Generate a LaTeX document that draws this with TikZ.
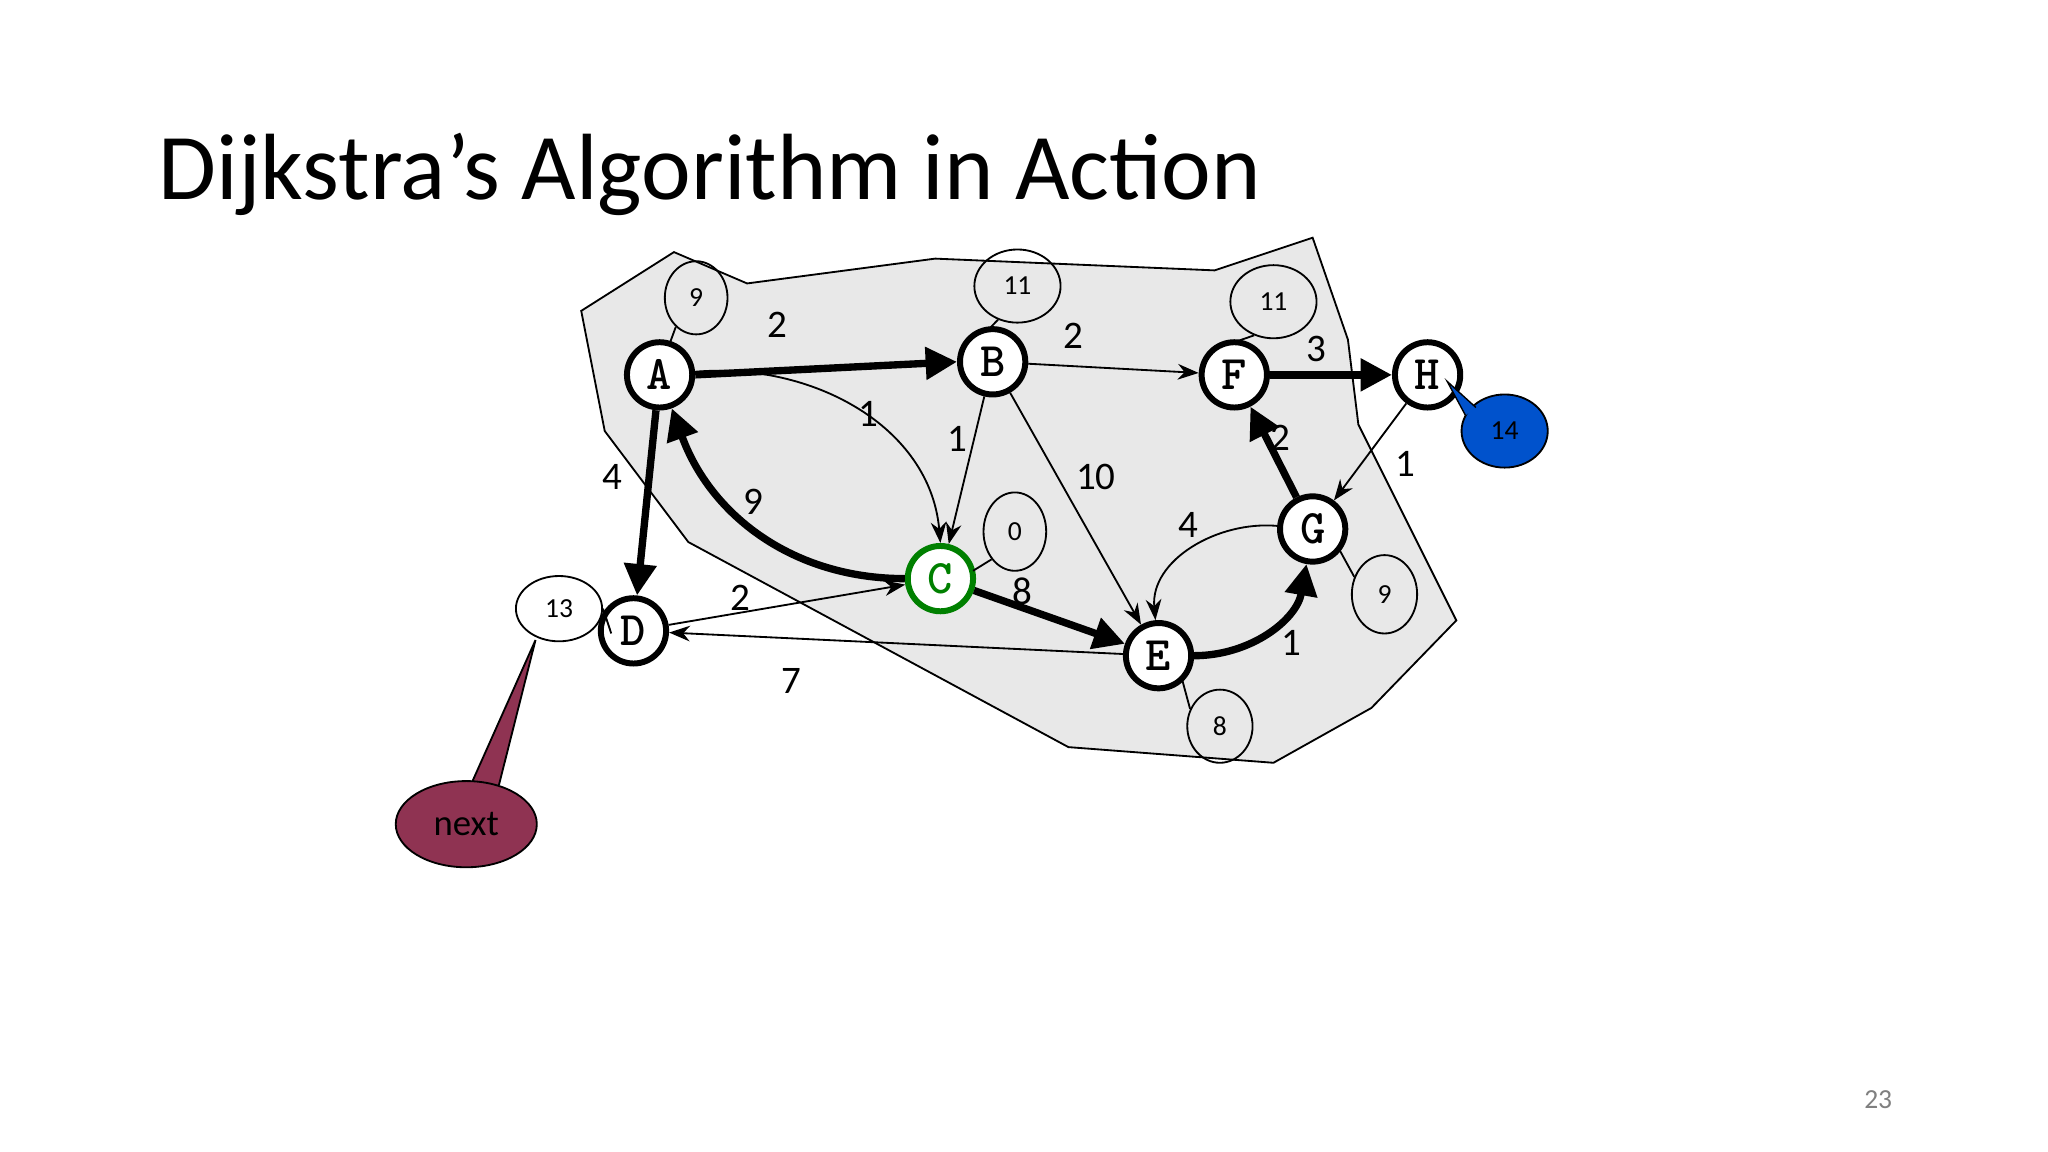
\documentclass[tikz,border=0pt]{standalone}
\usepackage{fontspec}
\setmainfont{Carlito}
\usetikzlibrary{arrows.meta,shapes.geometric}
\begin{document}
\begin{tikzpicture}[x=0.1mm,y=-0.1mm,
 vtx/.style={circle,draw,line width=1.3pt,fill=white,minimum size=5mm,inner sep=0pt,font=\ttfamily\bfseries\fontsize{10.5}{11}\selectfont},
 thin/.style={-{Stealth[length=1.6mm,width=1.2mm]},line width=0.4pt},
 thk/.style={-{Triangle[length=2.4mm,width=2.4mm]},line width=1.6pt},
 lbl/.style={font=\fontsize{8.5}{9}\selectfont},
 bub/.style={ellipse,draw,line width=0.4pt,inner sep=0pt,font=\fontsize{6}{7}\selectfont}]
\useasboundingbox (0,0) rectangle (1568,882);
\fill[white] (0,0) rectangle (1568,882);
\node[anchor=base west,inner sep=0pt,font=\fontsize{20.5}{22}\selectfont] (title) at (121,153) {Dijkstra’s Algorithm in Action};
\node[font=\fontsize{6}{7}\selectfont,text=gray] (pg) at (1438,842) {23};
\filldraw[fill=black!9,draw=black,line width=0.4pt] (445,238)--(516,193)--(572,217)--(716,198)--(930,207)--(1005,182)--(1032,260)--(1040,325)--(1115,475)--(1050,542)--(975,584)--(818,572)--(527,415)--(463,330)--cycle;
% nodes
\node[vtx] (A) at (505,287) {A};
\node[vtx] (B) at (760,277) {B};
\node[vtx] (F) at (945,287) {F};
\node[vtx] (H) at (1093,287) {H};
\node[vtx] (G) at (1005,405) {G};
\node[vtx] (E) at (887,502) {E};
\node[vtx,draw=green!50!black,text=green!50!black] (C) at (720,443) {C};
\node[vtx] (D) at (485,483) {D};
% edges
\draw[thk] (A.east) -- (B.west);
\draw[thin] (B) -- (F);
\draw[thk] (F) -- (H);
\draw[thk] (A) -- (D);
\draw[thin] (A) to[out=5,in=95] (C.north);
\draw[thin] (B) -- (C);
\draw[thin] (B) -- (E);
\draw[thk] (C) to[out=180,in=-70] (A);
\draw[thk] (C) -- (E);
\draw[thin] (D) -- (C);
\draw[thin] (E) -- (D);
\draw[thk] (E) to[out=0,in=-100] (G);
\draw[thin] (G) to[out=175,in=95] (E);
\draw[thk] (G) -- (F);
\draw[thin] (H) -- (G);
% labels
\node[lbl] (lab) at (595,249) {2};
\node[lbl] (lbf) at (822,257) {2};
\node[lbl] (lfh) at (1008,267) {3};
\node[lbl] (lad) at (469,365) {4};
\node[lbl] (lac) at (665,317) {1};
\node[lbl] (lbc) at (733,336) {1};
\node[lbl] (lbe) at (839,365) {10};
\node[lbl] (lca) at (577,384) {9};
\node[lbl] (lce) at (783,453) {8};
\node[lbl] (ldc) at (567,458) {2};
\node[lbl] (led) at (606,521) {7};
\node[lbl] (leg) at (989,492) {1};
\node[lbl] (lge) at (910,402) {4};
\node[lbl] (lgf) at (980,335) {2};
\node[lbl] (lhg) at (1076,355) {1};
% bubbles
\node[bub,minimum width=4.8mm,minimum height=5.6mm] (bA) at (533,228) {9};
\draw (bA.235) -- (512,265);
\node[bub,minimum width=6.6mm,minimum height=5.6mm] (bB) at (779,219) {11};
\draw (bB.240) -- (757,252);
\node[bub,minimum width=6.6mm,minimum height=5.6mm] (bF) at (975,231) {11};
\draw (bF.240) -- (945,262);
\node[bub,minimum width=4.8mm,minimum height=6mm] (bC) at (777,407) {0};
\draw (bC.230) -- (745,437);
\node[bub,minimum width=5mm,minimum height=6mm] (bG) at (1060,455) {9};
\draw (bG.150) -- (1025,420);
\node[bub,minimum width=5mm,minimum height=5.6mm] (bE) at (934,556) {8};
\draw (bE.150) -- (905,520);
\node[bub,minimum width=6.6mm,minimum height=5mm] (bD) at (428,466) {13};
\draw (bD.0) -- (468,485);
\node[ellipse,draw,fill=blue!60!cyan!80!black,minimum width=6.6mm,minimum height=5.6mm,inner sep=0pt,font=\fontsize{6}{7}\selectfont] (b14) at (1152,330) {14};
\filldraw[fill=blue!60!cyan!80!black,draw=black,line width=0.3pt] (1130,312)--(1108,292)--(1122,318);
\filldraw[fill=purple!60!black!80,draw=black,line width=0.4pt] (360,602)--(410,490)--(382,601);
\node[ellipse,draw,fill=purple!60!black!80,minimum width=10.8mm,minimum height=6.6mm,inner sep=0pt,font=\fontsize{8}{9}\selectfont] (nx) at (357,631) {next};
\fill[purple!60!black!80] (362,606)--(380,606)--(375,612)--(365,612)--cycle;
\end{tikzpicture}
\end{document}
